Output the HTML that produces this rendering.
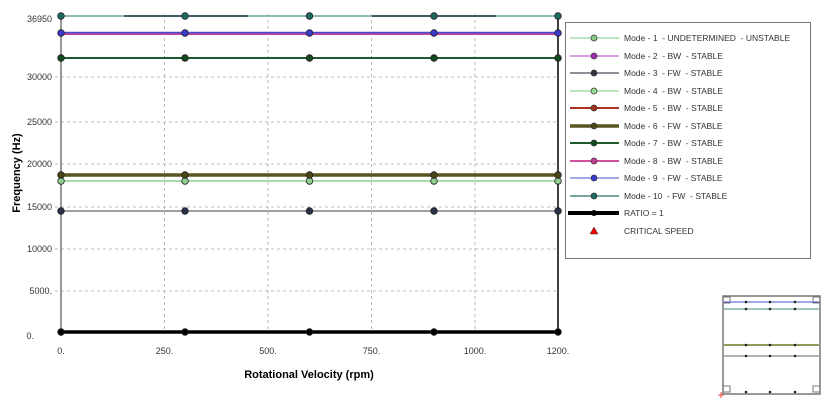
<!DOCTYPE html><html><head><style>body{margin:0;background:#fff;width:831px;height:411px;overflow:hidden}text{white-space:pre}</style></head><body>
<svg width="831" height="411" xmlns="http://www.w3.org/2000/svg" font-family="Liberation Sans, sans-serif">
<g stroke="#bbb" stroke-dasharray="3,3" stroke-width="1">
<line x1="164.5" y1="14" x2="164.5" y2="332"/><line x1="268" y1="14" x2="268" y2="332"/><line x1="371.5" y1="14" x2="371.5" y2="332"/><line x1="475" y1="14" x2="475" y2="332"/>
<line x1="55" y1="77" x2="558" y2="77"/><line x1="55" y1="122" x2="558" y2="122"/><line x1="55" y1="164" x2="558" y2="164"/><line x1="55" y1="207" x2="558" y2="207"/><line x1="55" y1="249" x2="558" y2="249"/><line x1="55" y1="291" x2="558" y2="291"/>
</g>
<line x1="61" y1="14" x2="61" y2="336" stroke="#777" stroke-width="1.5"/>
<line x1="558" y1="14" x2="558" y2="332" stroke="#000" stroke-width="1.5"/>
<g font-size="9" fill="#333" text-anchor="end">
<text x="52" y="22">36950</text><text x="52" y="80">30000</text><text x="52" y="125">25000</text><text x="52" y="167">20000</text><text x="52" y="210">15000</text><text x="52" y="252">10000</text><text x="52" y="294">5000.</text><text x="34" y="339">0.</text>
</g>
<g font-size="9" fill="#333" text-anchor="middle">
<text x="61" y="354">0.</text><text x="164.5" y="354">250.</text><text x="268" y="354">500.</text><text x="371.5" y="354">750.</text><text x="475" y="354">1000.</text><text x="558" y="354">1200.</text>
</g>
<text x="309" y="378" font-size="11" font-weight="bold" text-anchor="middle">Rotational Velocity (rpm)</text>
<text transform="translate(20,173) rotate(-90)" font-size="11" font-weight="bold" text-anchor="middle">Frequency (Hz)</text>
<g>
<line x1="61" y1="16" x2="558" y2="16" stroke="#6aa6a0" stroke-width="1.5"/>
<line x1="124" y1="16" x2="248" y2="16" stroke="#234" stroke-width="1.5"/><line x1="372" y1="16" x2="496" y2="16" stroke="#234" stroke-width="1.5"/>
<line x1="61" y1="34" x2="558" y2="34" stroke="#c040a0" stroke-width="2"/>
<line x1="61" y1="32.5" x2="558" y2="32.5" stroke="#4050d0" stroke-width="1.5"/>
<line x1="61" y1="58" x2="558" y2="58" stroke="#1f5a2a" stroke-width="2"/>
<line x1="61" y1="181" x2="558" y2="181" stroke="#8fcf8f" stroke-width="1.5"/>
<line x1="61" y1="175" x2="558" y2="175" stroke="#5a5520" stroke-width="3.5"/>
<line x1="61" y1="211" x2="558" y2="211" stroke="#666" stroke-width="1.2"/>
<line x1="61" y1="332" x2="558" y2="332" stroke="#000" stroke-width="3.5"/>
</g>
<g stroke="#222" stroke-width="0.8">
<g fill="#1d6a62"><circle cx="61" cy="16" r="3.3"/><circle cx="185" cy="16" r="3.3"/><circle cx="309.5" cy="16" r="3.3"/><circle cx="434" cy="16" r="3.3"/><circle cx="558" cy="16" r="3.3"/></g>
<g fill="#3a3ad0"><circle cx="61" cy="33" r="3.3"/><circle cx="185" cy="33" r="3.3"/><circle cx="309.5" cy="33" r="3.3"/><circle cx="434" cy="33" r="3.3"/><circle cx="558" cy="33" r="3.3"/></g>
<g fill="#124a20"><circle cx="61" cy="58" r="3.3"/><circle cx="185" cy="58" r="3.3"/><circle cx="309.5" cy="58" r="3.3"/><circle cx="434" cy="58" r="3.3"/><circle cx="558" cy="58" r="3.3"/></g>
<g fill="#8fcf8f"><circle cx="61" cy="181" r="3.3"/><circle cx="185" cy="181" r="3.3"/><circle cx="309.5" cy="181" r="3.3"/><circle cx="434" cy="181" r="3.3"/><circle cx="558" cy="181" r="3.3"/></g>
<g fill="#4a4518"><circle cx="61" cy="175" r="3.3"/><circle cx="185" cy="175" r="3.3"/><circle cx="309.5" cy="175" r="3.3"/><circle cx="434" cy="175" r="3.3"/><circle cx="558" cy="175" r="3.3"/></g>
<g fill="#2a3048"><circle cx="61" cy="211" r="3.3"/><circle cx="185" cy="211" r="3.3"/><circle cx="309.5" cy="211" r="3.3"/><circle cx="434" cy="211" r="3.3"/><circle cx="558" cy="211" r="3.3"/></g>
<g fill="#000"><circle cx="61" cy="332" r="3.3"/><circle cx="185" cy="332" r="3.3"/><circle cx="309.5" cy="332" r="3.3"/><circle cx="434" cy="332" r="3.3"/><circle cx="558" cy="332" r="3.3"/></g>
</g>
<rect x="565.5" y="22.5" width="245" height="236" fill="#fff" stroke="#777"/>
<g font-size="8.5" fill="#333">
<g transform="translate(0,38)"><line x1="570" x2="619" stroke="#7c7" stroke-width="1"/><circle cx="594" r="3" fill="#8c8" stroke="#333" stroke-width=".7"/><text x="624" y="3">Mode - 1  - UNDETERMINED  - UNSTABLE</text></g>
<g transform="translate(0,56)"><line x1="570" x2="619" stroke="#d8a0e0" stroke-width="2"/><circle cx="594" r="3" fill="#a030b0" stroke="#333" stroke-width=".7"/><text x="624" y="3">Mode - 2  - BW  - STABLE</text></g>
<g transform="translate(0,73)"><line x1="570" x2="619" stroke="#223" stroke-width="1"/><circle cx="594" r="3" fill="#334" stroke="#333" stroke-width=".7"/><text x="624" y="3">Mode - 3  - FW  - STABLE</text></g>
<g transform="translate(0,91)"><line x1="570" x2="619" stroke="#bde5bd" stroke-width="2"/><circle cx="594" r="3" fill="#9d9" stroke="#333" stroke-width=".7"/><text x="624" y="3">Mode - 4  - BW  - STABLE</text></g>
<g transform="translate(0,108)"><line x1="570" x2="619" stroke="#b03020" stroke-width="2"/><circle cx="594" r="3" fill="#a03020" stroke="#333" stroke-width=".7"/><text x="624" y="3">Mode - 5  - BW  - STABLE</text></g>
<g transform="translate(0,126)"><line x1="570" x2="619" stroke="#5a5520" stroke-width="3.5"/><circle cx="594" r="3" fill="#4a4518" stroke="#333" stroke-width=".7"/><text x="624" y="3">Mode - 6  - FW  - STABLE</text></g>
<g transform="translate(0,143)"><line x1="570" x2="619" stroke="#1f5a2a" stroke-width="2"/><circle cx="594" r="3" fill="#124a20" stroke="#333" stroke-width=".7"/><text x="624" y="3">Mode - 7  - BW  - STABLE</text></g>
<g transform="translate(0,161)"><line x1="570" x2="619" stroke="#d050a0" stroke-width="2"/><circle cx="594" r="3" fill="#c04090" stroke="#333" stroke-width=".7"/><text x="624" y="3">Mode - 8  - BW  - STABLE</text></g>
<g transform="translate(0,178)"><line x1="570" x2="619" stroke="#4050d0" stroke-width="1"/><circle cx="594" r="3" fill="#3a3ad0" stroke="#333" stroke-width=".7"/><text x="624" y="3">Mode - 9  - FW  - STABLE</text></g>
<g transform="translate(0,196)"><line x1="570" x2="619" stroke="#4a8a80" stroke-width="1.5"/><circle cx="594" r="3" fill="#1d6a62" stroke="#333" stroke-width=".7"/><text x="624" y="3">Mode - 10  - FW  - STABLE</text></g>
<g transform="translate(0,213)"><line x1="568" x2="619" stroke="#000" stroke-width="4"/><circle cx="594" r="3" fill="#000"/><text x="624" y="3">RATIO = 1</text></g>
<g transform="translate(0,231)"><polygon points="594,-4 598,3 590,3" fill="#e00" stroke="#333" stroke-width=".5"/><text x="624" y="3">CRITICAL SPEED</text></g>
</g>
<g>
<rect x="723" y="296" width="97" height="98" fill="#fff" stroke="#777" stroke-width="1.5"/>
<line x1="724" y1="302" x2="819" y2="302" stroke="#4050d0"/>
<line x1="724" y1="309" x2="819" y2="309" stroke="#4a8a70"/>
<line x1="724" y1="345" x2="819" y2="345" stroke="#6a7a20" stroke-width="1.5"/>
<line x1="724" y1="356" x2="819" y2="356" stroke="#667"/>
<g fill="#222"><circle cx="746" cy="302" r="1.3"/><circle cx="770" cy="302" r="1.3"/><circle cx="795" cy="302" r="1.3"/><circle cx="746" cy="309" r="1.3"/><circle cx="770" cy="309" r="1.3"/><circle cx="795" cy="309" r="1.3"/><circle cx="746" cy="345" r="1.3"/><circle cx="770" cy="345" r="1.3"/><circle cx="795" cy="345" r="1.3"/><circle cx="746" cy="356" r="1.3"/><circle cx="770" cy="356" r="1.3"/><circle cx="795" cy="356" r="1.3"/><circle cx="746" cy="392" r="1.3"/><circle cx="770" cy="392" r="1.3"/><circle cx="795" cy="392" r="1.3"/></g>
<path d="M723 392h7v-6h-7M820 392h-7v-6h7M723 297h7v6h-7M820 297h-7v6h7" fill="none" stroke="#777"/>
<path d="M718 395h6M721 392v6" stroke="#e44" stroke-width="1"/>
</g>
</svg></body></html>
